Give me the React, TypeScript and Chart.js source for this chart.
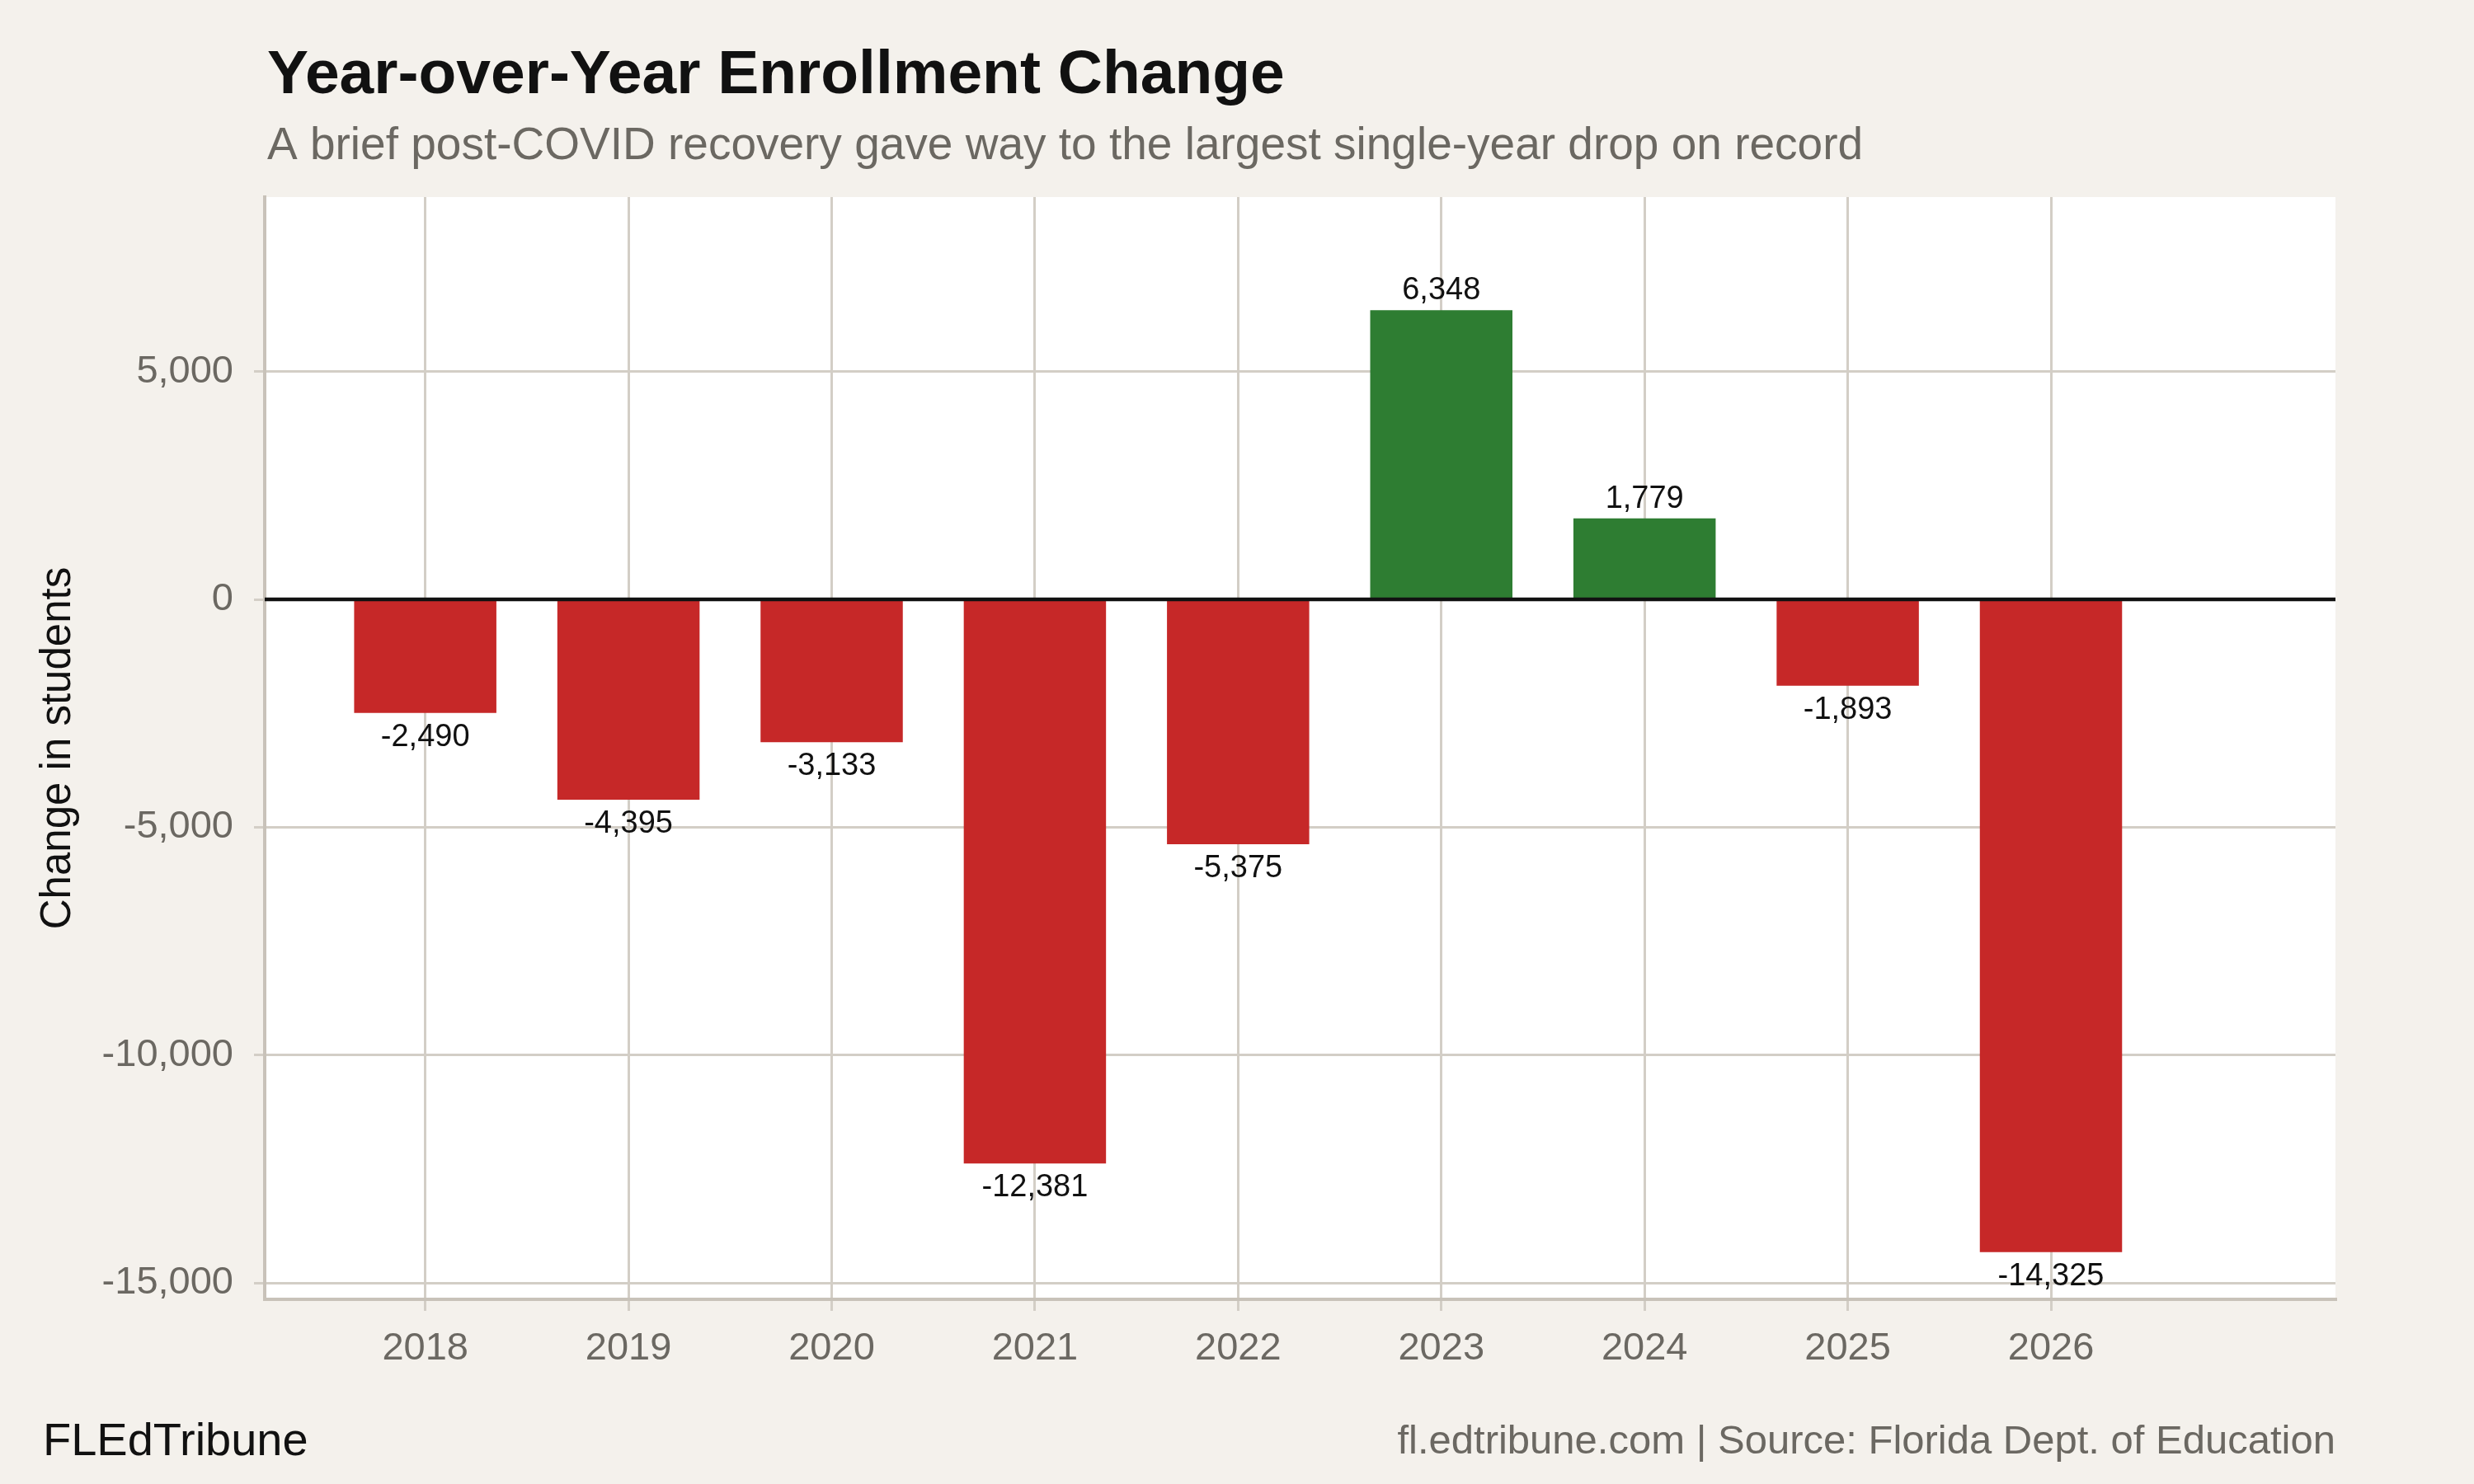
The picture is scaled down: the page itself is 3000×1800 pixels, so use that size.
import React, { useEffect, useRef } from "react";
import { Chart, registerables } from "chart.js";

Chart.register(...registerables);

// data
const years = [2018, 2019, 2020, 2021, 2022, 2023, 2024, 2025, 2026];
const changes = [-2490, -4395, -3133, -12381, -5375, 6348, 1779, -1893, -14325];
const yTicks = [-15000, -10000, -5000, 0, 5000];

const titleText = "Year-over-Year Enrollment Change";
const subtitleText = "A brief post-COVID recovery gave way to the largest single-year drop on record";
const yTitleText = "Change in students";
const brandText = "FLEdTribune";
const sourceText = "fl.edtribune.com | Source: Florida Dept. of Education";

const FONT = "'Liberation Sans', Arial, Helvetica, sans-serif";
const BG = "#f4f1ec";
const GRID = "#d3cec6";
const AXIS = "#c8c2b9";
const MUTED = "#6b6862";
const RED = "#c62828";
const GREEN = "#2e7d32";

const fmt = (v: number) => v.toLocaleString("en-US");

// background, zero line, value labels, titles and footer
const decor = {
  id: "decor",
  beforeDraw(chart: Chart) {
    const { ctx, chartArea: a, width, height } = chart;
    ctx.save();
    ctx.fillStyle = BG;
    ctx.fillRect(0, 0, width, height);
    ctx.fillStyle = "#ffffff";
    ctx.fillRect(a.left, a.top, a.right - a.left, a.bottom - a.top);
    ctx.restore();
  },
  afterDatasetsDraw(chart: Chart) {
    const { ctx, chartArea: a, scales } = chart;
    const y0 = scales.y.getPixelForValue(0);
    ctx.save();
    ctx.strokeStyle = "#111111";
    ctx.lineWidth = 4.5;
    ctx.beginPath();
    ctx.moveTo(a.left, y0);
    ctx.lineTo(a.right, y0);
    ctx.stroke();

    ctx.fillStyle = "#111111";
    ctx.font = `38px ${FONT}`;
    ctx.textAlign = "center";
    ctx.textBaseline = "alphabetic";
    const meta = chart.getDatasetMeta(0);
    meta.data.forEach((bar: any, i: number) => {
      const v = changes[i];
      const { x, y } = bar.getProps(["x", "y"], true);
      ctx.fillText(fmt(v), x, v >= 0 ? y - 13 : y + 40);
    });
    ctx.restore();
  },
  afterDraw(chart: Chart) {
    const { ctx, chartArea: a } = chart;
    ctx.save();
    ctx.textBaseline = "alphabetic";
    ctx.textAlign = "left";
    ctx.fillStyle = "#111111";
    ctx.font = `bold 75px ${FONT}`;
    ctx.fillText(titleText, a.left + 3, 113);
    ctx.fillStyle = MUTED;
    ctx.font = `55px ${FONT}`;
    ctx.fillText(subtitleText, a.left + 3, 193);

    ctx.fillStyle = "#111111";
    ctx.font = `56px ${FONT}`;
    ctx.fillText(brandText, 52, 1765);
    ctx.fillStyle = MUTED;
    ctx.font = `49px ${FONT}`;
    ctx.textAlign = "right";
    ctx.fillText(sourceText, a.right, 1763);
    ctx.restore();
  },
};

const App: React.FC = () => {
  const canvasRef = useRef<HTMLCanvasElement | null>(null);

  useEffect(() => {
    document.body.style.margin = "0";
    if (!canvasRef.current) return;

    const chart = new Chart(canvasRef.current, {
      type: "bar",
      data: {
        datasets: [
          {
            data: years.map((yr, i) => ({ x: yr, y: changes[i] })),
            backgroundColor: changes.map((v) => (v >= 0 ? GREEN : RED)),
            borderWidth: 0,
            barPercentage: 0.7,
            categoryPercentage: 1,
          },
        ],
      },
      options: {
        animation: false,
        responsive: false,
        devicePixelRatio: 1,
        layout: { padding: { left: 0, right: 168, top: 239, bottom: 0 } },
        plugins: {
          legend: { display: false },
          tooltip: { enabled: false },
        },
        scales: {
          x: {
            type: "linear",
            min: 2017.21,
            max: 2027.4,
            offset: false,
            afterBuildTicks: (axis: any) => {
              axis.ticks = years.map((v) => ({ value: v }));
            },
            afterFit: (axis: any) => {
              axis.height = 224;
            },
            ticks: {
              callback: (v: any) => String(v),
              font: { family: FONT, size: 47 },
              color: MUTED,
              padding: 18,
              maxRotation: 0,
              autoSkip: false,
            },
            grid: { color: GRID, lineWidth: 3, tickLength: 14, offset: false },
            border: { color: AXIS, width: 4 },
          },
          y: {
            type: "linear",
            min: -15360,
            max: 8830,
            afterBuildTicks: (axis: any) => {
              axis.ticks = yTicks.map((v) => ({ value: v }));
            },
            afterFit: (axis: any) => {
              axis.width = 321;
            },
            ticks: {
              callback: (v: any) => fmt(Number(v)),
              font: { family: FONT, size: 47 },
              color: MUTED,
              padding: 25,
            },
            grid: { color: GRID, lineWidth: 3, tickLength: 13 },
            border: { color: AXIS, width: 4 },
            title: {
              display: true,
              text: yTitleText,
              font: { family: FONT, size: 51 },
              color: "#111111",
              padding: { top: 40, bottom: 0 },
            },
          },
        },
      },
      plugins: [decor],
    });

    return () => {
      chart.destroy();
    };
  }, []);

  return (
    <div style={{ position: "absolute", left: 0, top: 0, width: 3000, height: 1800, background: BG }}>
      <canvas ref={canvasRef} width={3000} height={1800} style={{ width: 3000, height: 1800, display: "block" }} />
    </div>
  );
};

export default App;
